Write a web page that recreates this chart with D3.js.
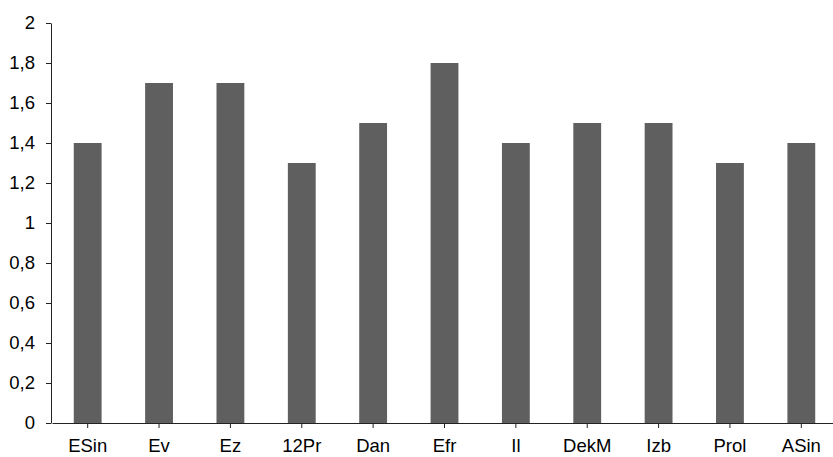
<!DOCTYPE html>
<html>
<head>
<meta charset="utf-8">
<script src="https://cdn.jsdelivr.net/npm/d3@7"></script>
<style>
  body { margin: 0; background: #fff; }
  svg { display: block; font-family: "Liberation Sans", Arial, sans-serif; }
</style>
</head>
<body>
<svg id="chart" width="833" height="457"></svg>
<script>
// data
var categories = ["ESin", "Ev", "Ez", "12Pr", "Dan", "Efr", "Il", "DekM", "Izb", "Prol", "ASin"];
var values = [1.4, 1.7, 1.7, 1.3, 1.5, 1.8, 1.4, 1.5, 1.5, 1.3, 1.4];
var yTicks = [0, 0.2, 0.4, 0.6, 0.8, 1, 1.2, 1.4, 1.6, 1.8, 2];

var svg = d3.select("#chart");

var x = d3.scaleBand()
  .domain(categories)
  .range([52, 837])
  .paddingInner(0.61)
  .paddingOuter(0.305);

var y = d3.scaleLinear()
  .domain([0, 2])
  .range([423, 23]);

var fmt = function (d) { return String(d).replace(".", ","); };

// bars
svg.append("g")
  .selectAll("rect")
  .data(values)
  .enter().append("rect")
  .attr("x", function (d, i) { return x(categories[i]); })
  .attr("y", function (d) { return y(d); })
  .attr("width", x.bandwidth())
  .attr("height", function (d) { return y(0) - y(d); })
  .attr("fill", "#5f5f5f");

// y axis
var yAxis = svg.append("g")
  .attr("transform", "translate(51,0)")
  .call(d3.axisLeft(y).tickValues(yTicks).tickFormat(fmt).tickSize(5).tickSizeOuter(0).tickPadding(11));
yAxis.select(".domain").attr("stroke", "#222");
yAxis.selectAll(".tick line").attr("stroke", "#222");
yAxis.selectAll("text").attr("font-size", 18.5).attr("fill", "#000")
  .attr("font-family", "'Liberation Sans', Arial, sans-serif");

// x axis
var xAxis = svg.append("g")
  .attr("transform", "translate(0,423)")
  .call(d3.axisBottom(x).tickSize(5).tickSizeOuter(0).tickPadding(11));
xAxis.select(".domain").attr("stroke", "#222");
xAxis.selectAll(".tick line").attr("stroke", "#222");
xAxis.selectAll("text").attr("font-size", 18.5).attr("fill", "#000")
  .attr("font-family", "'Liberation Sans', Arial, sans-serif");
</script>
</body>
</html>
